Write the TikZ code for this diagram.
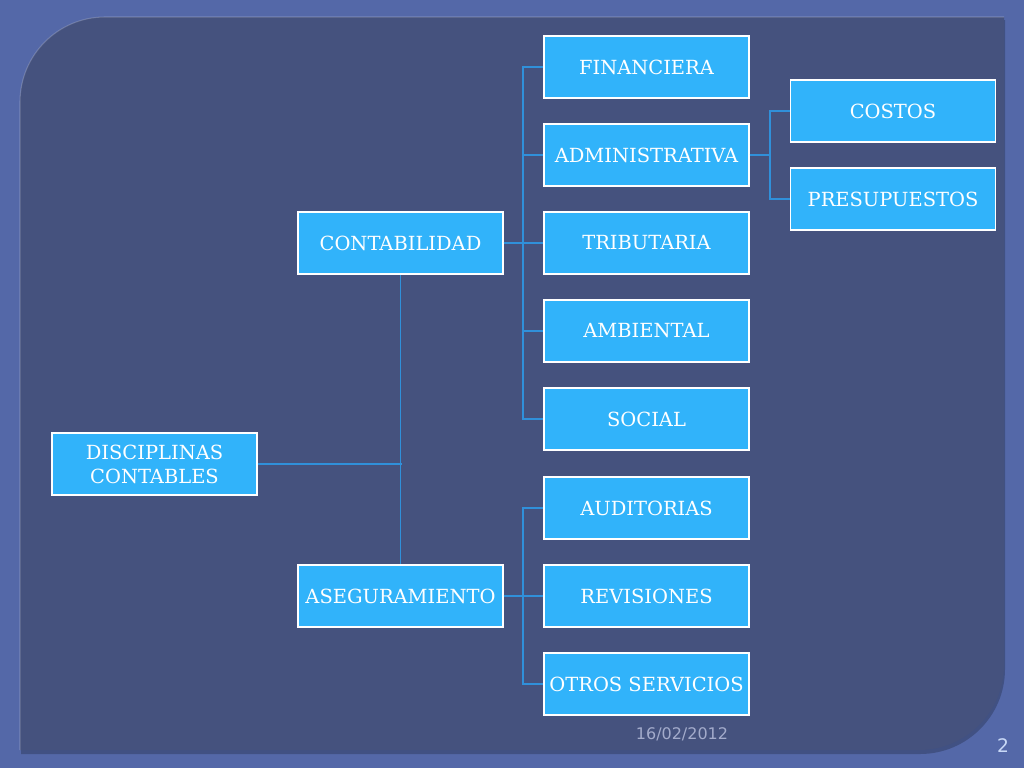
\documentclass[tikz,border=0pt]{standalone}
\usepackage{fontspec}
\setmainfont{DejaVu Serif}
\setsansfont{DejaVu Sans}
\definecolor{outerbg}{HTML}{5468A8}
\definecolor{panel}{HTML}{45527E}
\definecolor{boxfill}{HTML}{31B3FA}
\definecolor{conn}{HTML}{3090DA}
\definecolor{datec}{HTML}{A3ABCB}
\definecolor{pagec}{HTML}{C9D9F7}
\tikzset{
  box/.style={draw=white, line width=1.2pt, fill=boxfill, minimum width=153.75pt, minimum height=46.5pt, inner sep=1pt, text=white, font=\fontsize{14.6}{18}\selectfont, align=center},
  conline/.style={draw=conn, line width=1.3pt}
}
\begin{document}
\begin{tikzpicture}[x=0.75pt,y=-0.75pt]
\useasboundingbox (0,0) rectangle (1024,768);
\fill[outerbg] (0,0) rectangle (1024,768);
% panel shadow
\fill[black, opacity=0.22] (21,105) arc[start angle=180,end angle=270,radius=85] -- (1005,20) -- (1005,669) arc[start angle=0,end angle=90,radius=85] -- (21,754) -- cycle;
% panel
\fill[panel] (20,102) arc[start angle=180,end angle=270,radius=85] -- (1004,17) -- (1004,665) arc[start angle=0,end angle=90,radius=85] -- (20,750) -- cycle;
\draw[white, opacity=0.2, line width=0.8pt] (20,750) -- (20,102) arc[start angle=180,end angle=270,radius=85] -- (1004,17);

% nodes
\node[box] (fin) at (646.5,67) {FINANCIERA};
\node[box] (adm) at (646.5,155) {ADMINISTRATIVA};
\node[box] (tri) at (646.5,243) {TRIBUTARIA};
\node[box] (amb) at (646.5,331) {AMBIENTAL};
\node[box] (soc) at (646.5,419) {SOCIAL};
\node[box] (aud) at (646.5,508) {AUDITORIAS};
\node[box] (rev) at (646.5,596) {REVISIONES};
\node[box] (otr) at (646.5,684) {OTROS SERVICIOS};
\node[box] (cos) at (893,111) {COSTOS};
\node[box] (pre) at (893,199) {PRESUPUESTOS};
\node[box] (con) at (400.5,243) {CONTABILIDAD};
\node[box] (ase) at (400.5,596) {ASEGURAMIENTO};
\node[box] (dis) at (154.5,464) {DISCIPLINAS\\CONTABLES};

% connectors
\draw[conline] (dis.east) -- ++(144,0) coordinate (dj);
\draw[conline] (con.south) -- (ase.north);
\foreach \n in {fin,adm,tri,amb,soc}{
  \draw[conline] (con.east) -- (523,243) |- (\n.west);
}
\foreach \n in {aud,rev,otr}{
  \draw[conline] (ase.east) -- (523,596) |- (\n.west);
}
\foreach \n in {cos,pre}{
  \draw[conline] (adm.east) -- (770,155) |- (\n.west);
}

% date and page number
\node[text=datec, font=\fontsize{12}{14}\selectfont\sffamily] (date) at (682,734) {16/02/2012};
\node[text=pagec, font=\fontsize{14}{16}\selectfont\sffamily] (pg) at (1003,746) {2};
\end{tikzpicture}
\end{document}
